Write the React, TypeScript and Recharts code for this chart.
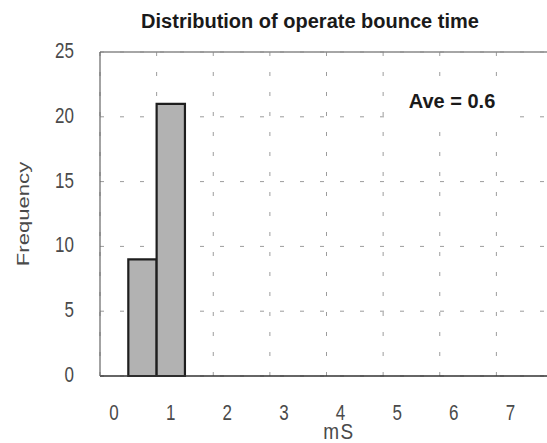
import React from "react";
import {
  ComposedChart,
  XAxis,
  YAxis,
  CartesianGrid,
  ReferenceArea,
  ReferenceLine,
} from "recharts";

// histogram bins (mS) and their frequencies
const binStart = [0.5, 1.0];
const binEnd = [1.0, 1.5];
const counts = [9, 21];

const xTicks = [0, 1, 2, 3, 4, 5, 6, 7];
const yTicks = [0, 5, 10, 15, 20, 25];

const title = "Distribution of operate bounce time";
const aveText = "Ave = 0.6";
const xLabel = "mS";
const yLabel = "Frequency";

const labelColor = "#4a4a4a";
const labelFont = "'Liberation Sans', Arial, Helvetica, sans-serif";

const bins = binStart.map((s, i) => ({ x1: s, x2: binEnd[i], count: counts[i] }));

function XTick(props: any) {
  const { x, y, payload } = props;
  return (
    <g transform={`translate(${x + 14},${y})`}>
      <text
        transform="scale(1,1.3)"
        x={0}
        y={33.8}
        textAnchor="middle"
        fill={labelColor}
        fontSize={17}
        fontFamily={labelFont}
      >
        {payload.value}
      </text>
    </g>
  );
}

function YTick(props: any) {
  const { x, y, payload } = props;
  return (
    <g transform={`translate(${x - 26},${y})`}>
      <text
        transform="scale(1,1.3)"
        x={0}
        y={4.6}
        textAnchor="end"
        fill={labelColor}
        fontSize={17}
        fontFamily={labelFont}
      >
        {payload.value}
      </text>
    </g>
  );
}

export default function App() {
  return (
    <div
      style={{
        position: "absolute",
        left: 0,
        top: 0,
        width: 547,
        height: 443,
        overflow: "hidden",
        background: "#fff",
      }}
    >
      <ComposedChart
        width={560}
        height={443}
        data={bins}
        margin={{ top: 52, right: 7, left: 0, bottom: 0 }}
      >
        <CartesianGrid
          stroke="#9c9c9c"
          strokeDasharray="4 16"
          horizontalValues={yTicks}
          verticalValues={xTicks}
        />
        <XAxis
          type="number"
          dataKey="x1"
          domain={[0, 8]}
          ticks={xTicks}
          allowDataOverflow
          height={67}
          tickSize={0}
          tickMargin={0}
          tickLine={false}
          axisLine={{ stroke: "#333", strokeWidth: 1.5 }}
          tick={<XTick />}
          interval={0}
        />
        <YAxis
          type="number"
          domain={[0, 25]}
          ticks={yTicks}
          allowDataOverflow
          width={100}
          tickSize={0}
          tickMargin={0}
          tickLine={false}
          axisLine={{ stroke: "#666", strokeWidth: 1.2 }}
          tick={<YTick />}
          interval={0}
        />
        <ReferenceLine y={25} stroke="#888" strokeWidth={1.5} />
        {bins.map((b, i) => (
          <ReferenceArea
            key={i}
            x1={b.x1}
            x2={b.x2}
            y1={0}
            y2={b.count}
            fill="#b2b2b2"
            fillOpacity={1}
            stroke="#1e1e1e"
            strokeWidth={2.2}
          />
        ))}
      </ComposedChart>
      <svg
        width={547}
        height={443}
        style={{ position: "absolute", left: 0, top: 0, pointerEvents: "none" }}
      >
        <text
          x={310}
          y={28}
          textAnchor="middle"
          fill="#1a1a1a"
          fontSize={20}
          fontWeight="bold"
          fontFamily={labelFont}
        >
          {title}
        </text>
        <text
          transform="translate(23,214) rotate(-90) scale(1.3,1)"
          x={0}
          y={6}
          textAnchor="middle"
          fill={labelColor}
          fontSize={17}
          fontFamily={labelFont}
        >
          {yLabel}
        </text>
        <text
          transform="translate(339,431) scale(1,1.2)"
          x={0}
          y={6.8}
          textAnchor="middle"
          fill={labelColor}
          fontSize={19}
          letterSpacing={1.5}
          fontFamily={labelFont}
        >
          {xLabel}
        </text>
        <rect x={390} y={85} width={123} height={34} fill="#fff" />
        <text
          x={452}
          y={108}
          textAnchor="middle"
          fill="#1a1a1a"
          fontSize={20}
          fontWeight="bold"
          fontFamily={labelFont}
        >
          {aveText}
        </text>
      </svg>
    </div>
  );
}
